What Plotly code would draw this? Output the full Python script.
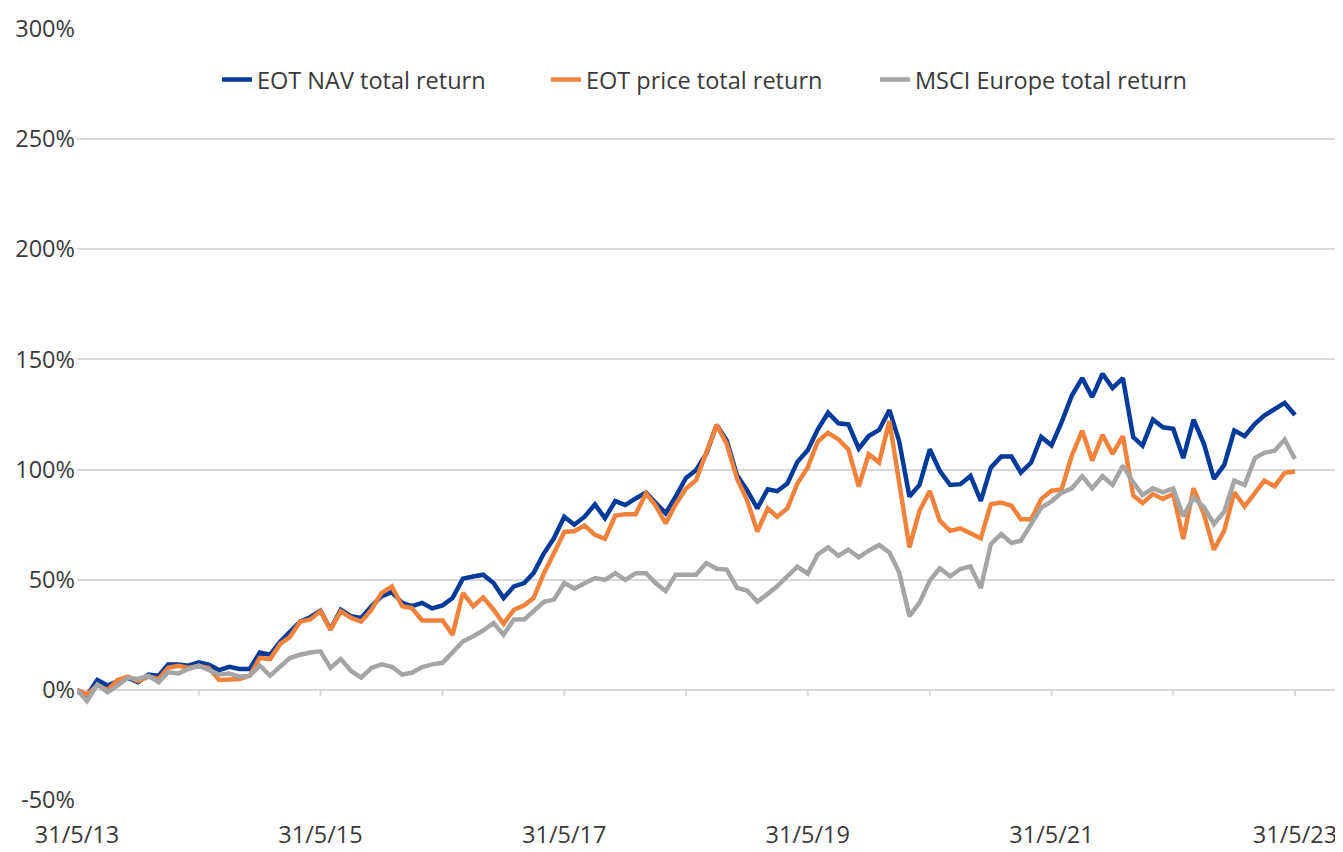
import pandas as pd
import plotly.graph_objects as go

# Monthly dates, 31/5/13 .. 31/5/23
dates = pd.date_range(start="2013-05-31", periods=121, freq=pd.offsets.MonthEnd())

nav_tr = [0, -2.5, 4.5, 2, 4, 5.5, 3.5, 7, 6.5, 11.5, 11.5, 11, 12.5, 11.5, 9, 10.5, 9.5, 9.5, 17, 16,
          22, 26, 31, 33, 36, 27.5, 36.4, 33.4, 32.7, 38, 42.5, 44.4, 39.5, 38, 39.5, 37, 38.4, 41.7, 50.5, 51.5,
          52.3, 48.5, 41.7, 47, 48.5, 53, 62, 68.8, 78.6, 75, 78.6, 84.2, 77.9, 85.7, 83.9, 86.9, 89.6, 85.1, 80.2, 87.7,
          96.2, 99.7, 107.2, 120.3, 113.2, 97.4, 90.7, 82.4, 91.1, 90.2, 93.7, 103.5, 108.8, 118.2, 125.8, 121, 120.5, 109.5, 115.2, 118,
          127, 113, 87.8, 93, 109.2, 99.4, 93, 93.4, 97.1, 85.8, 100.9, 105.9, 105.9, 98.6, 103.2, 114.8, 111, 121.4, 133.6, 141.5,
          132.9, 143.5, 137, 141.5, 114.7, 110.9, 122.7, 119.2, 118.5, 105.2, 122.7, 111.7, 95.8, 102.1, 117.7, 115.2, 120.8, 124.5, 127.6, 130.3,
          124.8]

price_tr = [0, -2, 2, 0, 4.5, 6, 4, 6, 5, 10, 11, 10, 11, 10, 4.5, 4.5, 5, 6.5, 14.5, 14,
            21, 24, 31, 32, 35.7, 27.4, 35.7, 32.7, 31, 36.4, 44, 47, 38, 37.2, 31.5, 31.5, 31.5, 25, 44, 38,
            42, 36.4, 30, 36.4, 38.4, 41.7, 53, 62, 71.7, 72, 74.6, 70.4, 68.6, 79.1, 79.7, 79.7, 89.2, 83.9, 75.6, 84.2,
            91.4, 95.2, 108, 120.3, 111.7, 95.9, 86.2, 71.9, 82.4, 78.6, 82.4, 93.7, 101, 112.7, 116.7, 113.7, 109.2, 92.3, 107, 103.2,
            122, 95.6, 64.7, 81.3, 90.3, 76.8, 72.2, 73.3, 71.2, 68.8, 84.3, 85, 83.6, 77.5, 77.5, 86.6, 90.4, 91, 106.4, 117.7,
            104.1, 115.8, 107.1, 115.2, 88.2, 84.8, 88.9, 86.7, 88.9, 68.5, 91.5, 79.8, 63.6, 72.3, 89.7, 83.3, 89.4, 95, 92.4, 98.5,
            99.1]

msci_tr = [0, -5, 2.5, -1, 2, 5.5, 5, 6.5, 3.5, 8, 7.5, 9.5, 11, 9, 7, 7.5, 6, 6.5, 11, 6.5,
           11, 14.5, 16, 17, 17.5, 10, 14, 8.6, 5.6, 10, 11.6, 10.5, 7, 7.8, 10.4, 11.6, 12.3, 16.9, 22, 24.4,
           27, 30.4, 25, 32, 32, 35.7, 40, 41, 48.5, 46, 48.6, 50.8, 50, 53, 50, 53, 53, 48.6, 44.8, 52.3,
           52.3, 52.3, 57.6, 55, 54.6, 46.3, 45.1, 40, 43.6, 47, 51.6, 56, 52.8, 61.5, 64.7, 60.9, 63.6, 60.2, 63.2, 65.8,
           62.4, 53.4, 33.5, 39.5, 49.6, 55.2, 51.6, 54.9, 56.1, 46.2, 66.2, 70.7, 66.7, 67.7, 75.3, 82.7, 85.6, 89.5, 91.5, 97,
           91.5, 97, 93, 101.8, 94.2, 88.5, 91.5, 89.7, 91.5, 78.8, 87.4, 82.9, 75.3, 80.9, 95, 93, 105.2, 107.6, 108.6, 113.6,
           104.8]

series_names = ["EOT NAV total return", "EOT price total return", "MSCI Europe total return"]
series_colors = ["#003A9B", "#F0823C", "#A5A5A5"]

tick_dates = pd.date_range(start="2013-05-31", periods=11, freq=pd.DateOffset(years=1))
tick_labels = ["31/5/13", "", "31/5/15", "", "31/5/17", "", "31/5/19", "", "31/5/21", "", "31/5/23"]
y_ticks = [-50, 0, 50, 100, 150, 200, 250, 300]
y_labels = ["-50%", "0%", "50%", "100%", "150%", "200%", "250%", "300%"]

FONT = "Open Sans"
FS = 23.5
GRID = "#D9D9D9"
TXT = "#3A3A3A"

fig = go.Figure()
for name, vals, col in zip(series_names, [nav_tr, price_tr, msci_tr], series_colors):
    fig.add_trace(go.Scatter(x=dates, y=vals, mode="lines", name=name,
                             line=dict(color=col, width=4.5)))

# small tick marks hanging below the 0% line, one per year
for d in tick_dates:
    fig.add_shape(type="line", xref="x", yref="y", x0=d, x1=d,
                  ysizemode="pixel", yanchor=0, y0=0, y1=-6,
                  line=dict(color=GRID, width=2), layer="below")

# page body has an 8px margin, so the figure is sized 8px smaller than the window
fig.update_layout(
    width=1335, height=844,
    margin=dict(l=69, r=5, t=20, b=51, autoexpand=False),
    paper_bgcolor="white", plot_bgcolor="white",
    font=dict(family=FONT, size=FS, color=TXT),
    showlegend=True,
    legend=dict(orientation="h", x=0.111, xanchor="left", y=0.933, yanchor="middle",
                font=dict(family=FONT, size=FS, color=TXT),
                entrywidth=284, entrywidthmode="pixels",
                bgcolor="rgba(0,0,0,0)"),
    xaxis=dict(
        type="date", automargin=False,
        range=[dates[0], pd.Timestamp("2023-10-07")],
        tickmode="array", tickvals=tick_dates, ticktext=tick_labels,
        showgrid=False, zeroline=False, showline=False,
        ticks="outside", ticklen=13, tickcolor="rgba(0,0,0,0)",
        tickfont=dict(family=FONT, size=FS, color=TXT),
    ),
    yaxis=dict(
        automargin=False,
        range=[-50.4, 300.4],
        tickmode="array", tickvals=y_ticks, ticktext=y_labels,
        showgrid=True, gridcolor=GRID, gridwidth=2,
        zeroline=True, zerolinecolor=GRID, zerolinewidth=2,
        showline=False, ticks="", ticklabelstandoff=1,
        tickfont=dict(family=FONT, size=FS, color=TXT),
    ),
)

fig.write_html("out.html")
